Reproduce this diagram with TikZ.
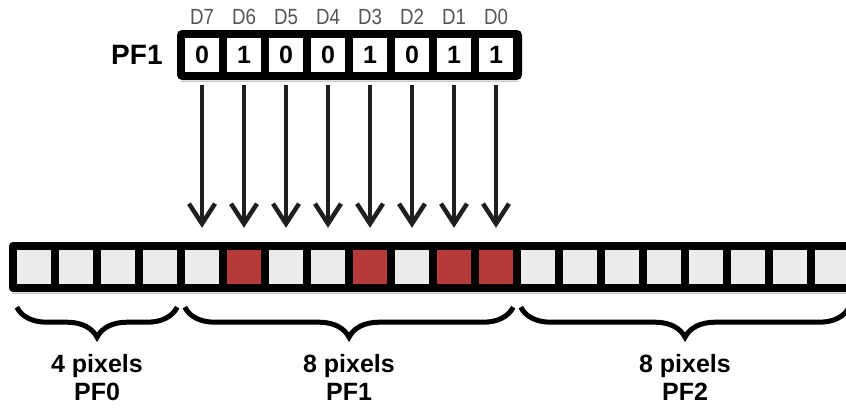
\documentclass[tikz,border=0pt]{standalone}
\usepackage{fontspec}
\setmainfont{Liberation Sans}
\newfontfamily\etroite[FakeStretch=0.85]{Liberation Sans}
\usetikzlibrary{arrows.meta,decorations.pathreplacing,positioning}

\definecolor{grispixel}{HTML}{EBEBEB}
\definecolor{rougepixel}{HTML}{B63A3A}
\definecolor{grisbit}{HTML}{555555}
\definecolor{grisombre}{HTML}{C8C8C8}

\tikzset{
  pixel/.style={fill=grispixel, minimum size=34pt, inner sep=0pt},
  bit/.style={fill=white, minimum size=34pt, inner sep=0pt, font=\bfseries\fontsize{25}{25}\selectfont},
  nombit/.style={text=grisbit, inner sep=0pt, font=\etroite\fontsize{22}{22}\selectfont},
  fleche/.style={draw=black!88, line width=4pt, -{Straight Barb[length=20pt,width=26pt,line width=4.5pt]}, shorten <=13pt, shorten >=22pt},
  accolade/.style={decorate, decoration={brace, mirror, amplitude=30pt}, line width=5pt},
  legende/.style={align=center, inner sep=0pt, font=\bfseries\fontsize{25}{28}\selectfont},
}

\begin{document}
\begin{tikzpicture}[x=1pt, y=-1pt]
\useasboundingbox (0,0) rectangle (846,408);

% Registre PF1
\fill[rounded corners=5pt] (177,30) rectangle (522,80);
\draw[grisombre, line width=1.5pt] (180,81.5) -- (519,81.5);
\foreach \valeur [count=\k from 0] in {0,1,0,0,1,0,1,1} {
  \pgfmathtruncatemacro{\numbit}{7-\k}
  \node[bit] (r\k) at ({202+42*\k},55) {\valeur};
  \node[nombit, above=13pt of r\k] (n\k) {D\numbit};
}
\node[inner sep=0pt, font=\bfseries\fontsize{28}{28}\selectfont, left=22pt of r0] (pf) {PF1};

% Rangee de pixels
\fill[rounded corners=4pt] (9,242) rectangle (870,292);
\draw[grisombre, line width=1.5pt] (12,293.5) -- (846,293.5);
\foreach \i in {0,...,19}
  \node[pixel] (c\i) at ({34+42*\i},267) {};
\foreach \i in {5,8,10,11}
  \fill[rougepixel] (c\i.north west) rectangle (c\i.south east);

% Fleches bit -> pixel
\foreach \k in {0,...,7} {
  \pgfmathtruncatemacro{\cible}{\k+4}
  \draw[fleche] (r\k.south) -- (c\cible.north);
}

% Accolades et legendes
\foreach \debut/\fin/\texte in {0/3/{4 pixels\\PF0}, 4/11/{8 pixels\\PF1}, 12/19/{8 pixels\\PF2}}
  \draw[accolade] ([yshift=-23pt]c\debut.south west) -- ([yshift=-23pt]c\fin.south east)
    node[legende, midway, below=45pt] {\texte};
\end{tikzpicture}
\end{document}
